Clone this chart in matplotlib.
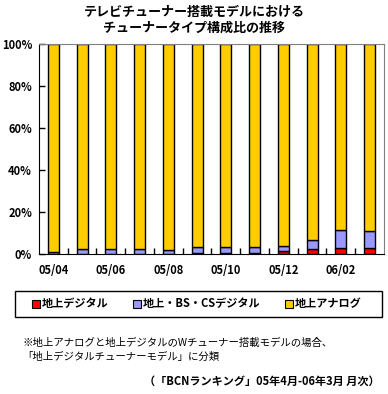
import numpy as np
import matplotlib
matplotlib.use("Agg")
import matplotlib.pyplot as plt
from matplotlib.patches import Patch, Rectangle

plt.rcParams['font.family'] = ['Noto Sans CJK JP', 'DejaVu Sans']

months = ["05/04", "05/05", "05/06", "05/07", "05/08", "05/09",
          "05/10", "05/11", "05/12", "06/01", "06/02", "06/03"]
digital = [0.1, 0.2, 0.2, 0.2, 0.2, 0.3, 0.4, 0.7, 1.3, 2.2, 2.9, 2.9]
bs_cs = [0.7, 2.0, 2.0, 2.0, 1.7, 2.9, 2.9, 2.6, 2.7, 4.5, 8.5, 7.9]
analog = [100 - d - b for d, b in zip(digital, bs_cs)]

series_names = ["地上デジタル", "地上・BS・CSデジタル", "地上アナログ"]
colors = ["#FF0000", "#9999FF", "#FFCC00"]

fig = plt.figure(figsize=(3.88, 3.94), dpi=100)
ax = fig.add_axes([39/388, 1 - 254/394, 345/388, 210/394])

x = np.arange(len(months))
bottom = np.zeros(len(months))
for vals, c in zip([digital, bs_cs, analog], colors):
    ax.bar(x, vals, 0.38, bottom=bottom, color=c, edgecolor="black", linewidth=1.0)
    bottom += np.array(vals)

ax.set_xlim(-0.5, len(months) - 0.5)
ax.set_ylim(0, 100)
ax.set_yticks(range(0, 101, 20))
ax.set_yticklabels([f"{v}%" for v in range(0, 101, 20)], fontsize=8, fontweight="bold")
ax.set_xticks(x[::2])
ax.set_xticklabels(months[::2], fontsize=8, fontweight="bold")
ax.set_xticks(np.arange(len(months) - 1) + 0.5, minor=True)
ax.tick_params(axis="x", which="major", length=0, pad=7)
ax.tick_params(axis="x", which="minor", direction="in", length=4, width=1)
ax.tick_params(axis="y", direction="in", length=4, width=1, pad=5)
for s in ["top", "right"]:
    ax.spines[s].set_color("#808080")
for s in ["left", "bottom"]:
    ax.spines[s].set_color("black")

# title
fig.text(0.5, 1 - 12/394, "テレビチューナー搭載モデルにおける", ha="center", va="center",
         fontsize=9.4, fontweight="bold")
fig.text(0.5, 1 - 28/394, "チューナータイプ構成比の推移", ha="center", va="center",
         fontsize=9.4, fontweight="bold")

# legend with a wide box
handles = [Patch(facecolor=c, edgecolor="black", linewidth=0.8) for c in colors]
leg = fig.legend(handles, series_names, loc="center", ncol=3,
                 bbox_to_anchor=(197/388, 1 - 304/394),
                 prop={"weight": "bold", "size": 8},
                 handlelength=0.7, handleheight=0.7, handletextpad=0.2,
                 columnspacing=2.2, frameon=False)
fig.patches.append(Rectangle((15/388, 1 - 317/394), 367/388, 26/394,
                             transform=fig.transFigure, fill=False,
                             edgecolor="black", linewidth=1.0))

# notes
fig.text(22/388, 1 - 343/394, "※地上アナログと地上デジタルのWチューナー搭載モデルの場合、",
         ha="left", va="center", fontsize=7.5)
fig.text(22/388, 1 - 357/394, "「地上デジタルチューナーモデル」に分類",
         ha="left", va="center", fontsize=7.5)
fig.text(380/388, 1 - 381/394, "（「BCNランキング」05年4月-06年3月 月次）",
         ha="right", va="center", fontsize=8, fontweight="bold")

fig.savefig("out.png", dpi=100)
